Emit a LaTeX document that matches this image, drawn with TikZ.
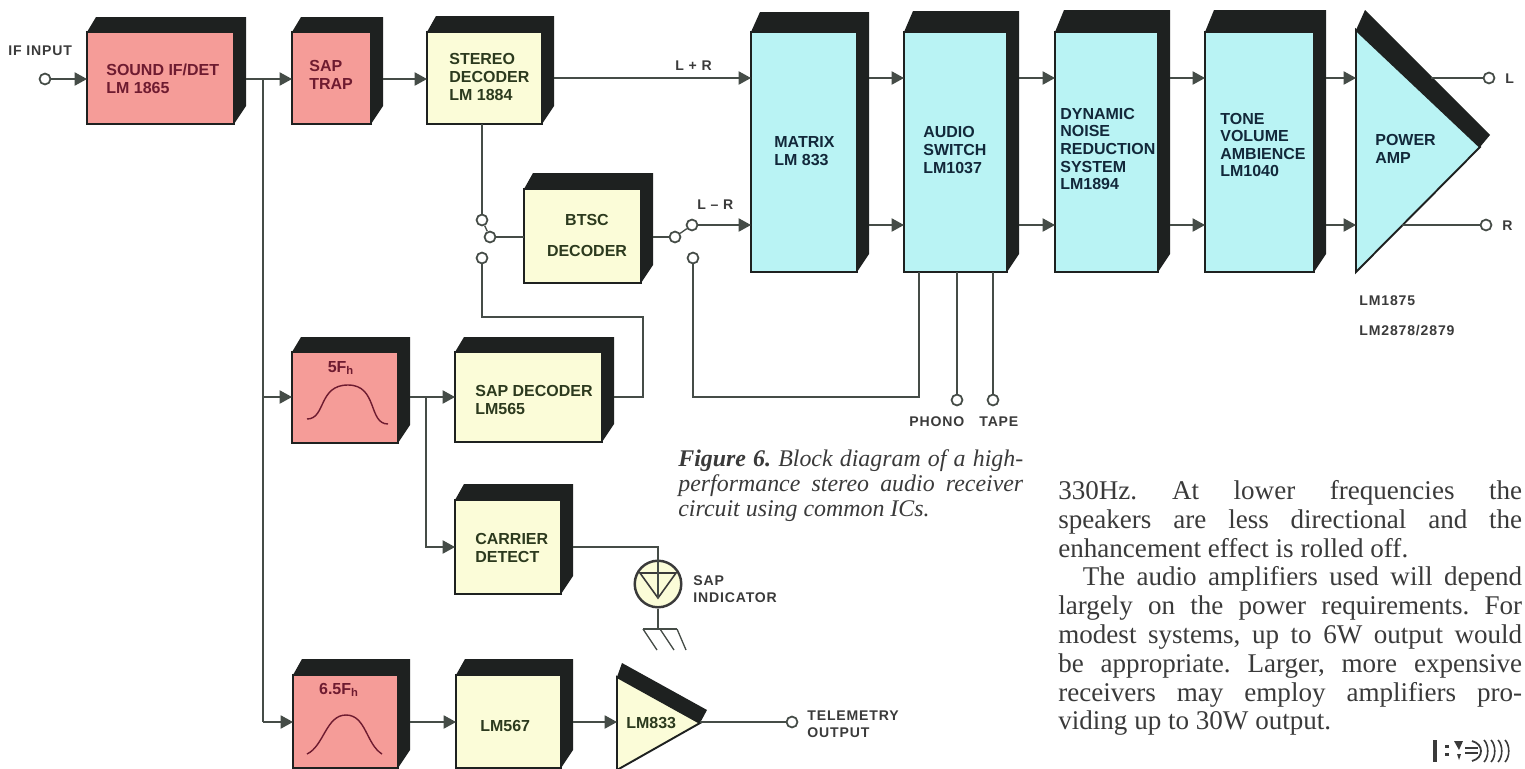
\documentclass[tikz,border=0pt]{standalone}
\usepackage{fontspec}
\usepackage{amsmath, amssymb}
\usepackage{tikz}
\usetikzlibrary{positioning,arrows.meta}
\setmainfont{Liberation Sans}
\newfontfamily\serifbody{Liberation Serif}
\newfontfamily\spaced[LetterSpace=6]{Liberation Sans}

\definecolor{sidedark}{HTML}{1E2120}
\definecolor{wiregray}{HTML}{454C47}
\definecolor{redface}{HTML}{F59C98}
\definecolor{redink}{HTML}{6E1B30}
\definecolor{yellowface}{HTML}{FBFCD8}
\definecolor{yellowink}{HTML}{2C3A1E}
\definecolor{cyanface}{HTML}{B9F3F4}
\definecolor{cyanink}{HTML}{12283A}
\definecolor{printgray}{HTML}{3A3A3A}

\tikzset{
  redblock/.style={draw=sidedark,line width=1.1pt,fill=redface,inner sep=0pt,outer sep=0pt},
  yellowblock/.style={draw=sidedark,line width=1.1pt,fill=yellowface,inner sep=0pt,outer sep=0pt},
  cyanblock/.style={draw=sidedark,line width=1.1pt,fill=cyanface,inner sep=0pt,outer sep=0pt},
  lbl/.style={anchor=west,align=left,inner sep=0pt,font=\bfseries\fontsize{9.1}{10}\selectfont},
  redlbl/.style={lbl,text=redink},
  yellowlbl/.style={lbl,text=yellowink},
  cyanlbl/.style={lbl,text=cyanink},
  note/.style={anchor=west,align=left,inner sep=0pt,text=printgray,font=\spaced\bfseries\fontsize{8}{9.6}\selectfont},
  wire/.style={draw=wiregray,line width=0.75pt},
  feed/.style={wire,-{Triangle[length=7pt,width=7.5pt]}},
  term/.style={circle,draw=wiregray,fill=white,line width=1pt,inner sep=0pt,minimum size=6.2pt},
}

% name, style, left, top, right, bottom, back edge
\newcommand{\chipbox}[7]{
  \fill[sidedark] (#3,#4) -- ({#3+9},#7) -- ({#5+12},#7) -- ({#5+12},{#6-18}) -- (#5,#6) -- (#3,#6) -- cycle;
  \node[#2,anchor=north west,minimum width={(#5-#3)*0.02cm},minimum height={(#6-#4)*0.02cm}] (#1) at (#3,#4) {};
  \coordinate (#1-out) at ({#5+12},{(#4+#6)/2});
}

\begin{document}
\begin{tikzpicture}[x=0.02cm,y=-0.02cm]
\useasboundingbox (0,0) rectangle (1525,768);

% Signal rows
\coordinate (rowtop) at (0,79);
\coordinate (rowsum) at (0,78);
\coordinate (rowdiff) at (0,225);
\coordinate (rowbtsc) at (0,237);
\coordinate (rowsap) at (0,397);
\coordinate (rowcarrier) at (0,547);
\coordinate (rowtele) at (0,722);

% Top row blocks
\chipbox{sound}{redblock}{87}{32}{234}{124}{17}
\chipbox{trap}{redblock}{292}{32}{371}{124}{17}
\chipbox{stereo}{yellowblock}{427}{32}{542}{124}{16}
\chipbox{btsc}{yellowblock}{524}{189}{641}{283}{173}
\chipbox{matrix}{cyanblock}{751}{32}{857}{272}{12}
\chipbox{switch}{cyanblock}{904}{32}{1007}{272}{11}
\chipbox{dnr}{cyanblock}{1055}{32}{1158}{272}{10}
\chipbox{tone}{cyanblock}{1205}{32}{1314}{272}{10}

% Lower blocks
\chipbox{fivef}{redblock}{292}{352}{398}{443}{337}
\chipbox{sapdec}{yellowblock}{455}{352}{602}{442}{337}
\chipbox{carrier}{yellowblock}{455}{500}{561}{594}{484}
\chipbox{sixf}{redblock}{293}{675}{398}{768}{659}
\chipbox{pll}{yellowblock}{456}{675}{561}{768}{659}

% Power amp and small amp
\fill[sidedark] (1356,30) -- (1365,10) -- (1490,135) -- (1480,147) -- cycle;
\draw[cyanblock] (1356,30) -- (1480,147) -- (1356,272) -- cycle;
\coordinate (power) at (1356,150);
\coordinate (power-l) at (1431,78);
\coordinate (power-r) at (1402,225);
\fill[sidedark] (617,677) -- (622,663) -- (707,710) -- (700,723) -- cycle;
\draw[yellowblock] (617,677) -- (700,723) -- (617,770) -- cycle;
\coordinate (small) at (617,722);
\coordinate (small-tip) at (700,722);

% Block labels
\node[redlbl] (soundlbl) at (106,79) {SOUND IF/DET\\LM 1865};
\node[redlbl] (traplbl) at (309,75) {SAP\\TRAP};
\node[yellowlbl] (stereolbl) at (449,77) {STEREO\\DECODER\\LM 1884};
\node[yellowlbl,anchor=center] (btsclbl) at (587,220) {BTSC};
\node[yellowlbl,anchor=center] (btsclbltwo) at (587,251) {DECODER};
\node[cyanlbl] (matrixlbl) at (774,151) {MATRIX\\LM 833};
\node[cyanlbl] (switchlbl) at (923,150) {AUDIO\\SWITCH\\LM1037};
\node[cyanlbl] (dnrlbl) at (1060,149) {DYNAMIC\\NOISE\\REDUCTION\\SYSTEM\\LM1894};
\node[cyanlbl] (tonelbl) at (1220,145) {TONE\\VOLUME\\AMBIENCE\\LM1040};
\node[cyanlbl] (powerlbl) at (1375,149) {POWER\\AMP};
\node[yellowlbl] (saplbl) at (475,400) {SAP DECODER\\LM565};
\node[yellowlbl] (carrierlbl) at (475,548) {CARRIER\\DETECT};
\node[yellowlbl] (plllbl) at (480,726) {LM567};
\node[yellowlbl] (smalllbl) at (626,723) {LM833};
\node[redlbl,anchor=center] (fiveflbl) at (341,368) {5F$_{\text{h}}$};
\node[redlbl,anchor=center] (sixflbl) at (339,690) {6.5F$_{\text{h}}$};

% Filter curves
\draw[draw=redink,line width=0.8pt] (307,419) .. controls (326,419) and (318,385) .. (348,385) .. controls (378,385) and (368,424) .. (388,424);
\draw[draw=redink,line width=0.8pt] (307,754) .. controls (324,746) and (326,715) .. (346,715) .. controls (366,715) and (366,744) .. (382,754);

% Terminals
\node[term] (ifin) at (45,79) {};
\node[term] (swatop) at (482,220) {};
\node[term] (swamid) at (490,237) {};
\node[term] (swabot) at (482,258) {};
\node[term] (swbmid) at (675,237) {};
\node[term] (swbtop) at (692,225) {};
\node[term] (swbbot) at (693,258) {};
\node[term] (phono) at (957,400) {};
\node[term] (tape) at (993,400) {};
\node[term] (outl) at (1489,78) {};
\node[term] (outr) at (1486,225) {};
\node[term] (tele) at (792,722) {};

% Top row feeds
\draw[feed] (ifin) -- (sound.west |- rowtop);
\draw[feed] (sound-out |- rowtop) -- (trap.west |- rowtop);
\draw[feed] (trap-out |- rowtop) -- (stereo.west |- rowtop);
\draw[feed] (stereo-out |- rowsum) -- (matrix.west |- rowsum);
\draw[feed] (swbtop) -- (matrix.west |- rowdiff);
\foreach \a/\b in {matrix/switch,switch/dnr,dnr/tone} {
  \draw[feed] (\a-out |- rowsum) -- (\b.west |- rowsum);
  \draw[feed] (\a-out |- rowdiff) -- (\b.west |- rowdiff);
}
\draw[feed] (tone-out |- rowsum) -- (power |- rowsum);
\draw[feed] (tone-out |- rowdiff) -- (power |- rowdiff);

% Switches round the BTSC block
\draw[wire] (stereo.south -| swatop) -- (swatop);
\draw[wire] (swatop) -- (swamid);
\draw[wire] (swamid) -- (btsc.west |- rowbtsc);
\draw[wire] (btsc-out |- rowbtsc) -- (swbmid);
\draw[wire] (swbmid) -- (swbtop);
\draw[wire] (swabot) -- (482,317) -- (643,317) -- (643,397) -- (sapdec-out |- rowsap);
\draw[wire] (swbbot) -- (693,397) -- (919,397) -- (919,272);
\draw[wire] (phono) -- (957,272);
\draw[wire] (tape) -- (993,272);

% Trunk and lower rows
\draw[wire] (263,79) -- (263,722);
\draw[feed] (263,397) -- (fivef.west |- rowsap);
\draw[feed] (263,722) -- (sixf.west |- rowtele);
\draw[feed] (fivef-out |- rowsap) -- (sapdec.west |- rowsap);
\draw[feed] (426,397) -- (426,547) -- (carrier.west |- rowcarrier);
\draw[feed] (sixf-out |- rowtele) -- (pll.west |- rowtele);
\draw[feed] (pll-out |- rowtele) -- (small);
\draw[wire] (small-tip) -- (tele);

% Amp outputs
\draw[wire] (power-l) -- (outl);
\draw[wire] (power-r) -- (outr);

% SAP indicator lamp
\node[circle,draw=printgray,fill=yellowface,line width=1.4pt,inner sep=0pt,minimum size=26.5pt] (lamp) at (658,584) {};
\draw[wire] (carrier-out |- rowcarrier) -- (lamp.north |- rowcarrier) -- (lamp.north);
\draw[printgray,line width=0.9pt] (640,573) -- (676,573) -- (658,598) -- cycle;
\draw[wire] (lamp.north) -- (658,598);
\coordinate (gnd) at (658,629);
\draw[wire] (lamp.south) -- (gnd);
\draw[wire] (643,629) -- (677,629);
\draw[wire] (643,629) -- (657,650);
\draw[wire] (660,629) -- (674,650);
\draw[wire] (677,629) -- (686,650);

% Small print
\node[note] (ifinlbl) at (8,51) {IF INPUT};
\node[note] (sumlbl) at (675,66) {L + R};
\node[note] (difflbl) at (697,205) {L \textendash{} R};
\node[note] (llbl) at (1505,79) {L};
\node[note] (rlbl) at (1502,226) {R};
\node[note] (powerone) at (1359,301) {LM1875};
\node[note] (powertwo) at (1359,331) {LM2878/2879};
\node[note] (phonolbl) at (909,422) {PHONO};
\node[note] (tapelbl) at (979,422) {TAPE};
\node[note] (saplamplbl) at (693,589) {SAP\\INDICATOR};
\node[note] (telelbl) at (807,724) {TELEMETRY\\OUTPUT};

% Caption
\node[anchor=north west,inner sep=0pt,text width=196.3pt,align=justify,text=printgray,
  font=\frenchspacing\serifbody\itshape\fontsize{13.6}{14.4}\selectfont] (caption) at (678,449)
  {\textbf{Figure 6.} Block diagram of a high-\linebreak performance stereo audio receiver\linebreak circuit using common ICs.};

% Column of article text
\node[anchor=north west,inner sep=0pt,text width=264pt,align=justify,text=printgray,
  font=\frenchspacing\serifbody\fontsize{15.4}{16.4}\selectfont] (article) at (1058,480)
  {330Hz. At lower frequencies the\linebreak speakers are less directional and the\linebreak enhancement effect is rolled off.\\
  \hspace*{14pt}The audio amplifiers used will depend\linebreak largely on the power requirements. For\linebreak modest systems, up to 6W output would\linebreak be appropriate. Larger, more expensive\linebreak receivers may employ amplifiers pro-\linebreak viding up to 30W output.};

% End mark
\fill[printgray] (1433,740) rectangle (1437,762);
\fill[printgray] (1445,745) rectangle (1449,748);
\fill[printgray] (1445,753) rectangle (1449,756);
\fill[printgray] (1454,741) -- (1463,741) -- (1459,750) -- cycle;
\fill[printgray] (1457,754) -- (1461,754) -- (1459,760) -- cycle;
\draw[printgray,line width=0.9pt] (1465,748) -- (1478,748) (1465,753) -- (1478,753);
\draw[printgray,line width=1pt] (1472,741) .. controls (1484,744) and (1484,758) .. (1472,761);
\foreach \x in {1484,1491,1498,1505} {
  \draw[printgray,line width=0.9pt] (\x,740) .. controls ({\x+5},745) and ({\x+5},757) .. (\x,762);
}

\end{tikzpicture}
\end{document}
